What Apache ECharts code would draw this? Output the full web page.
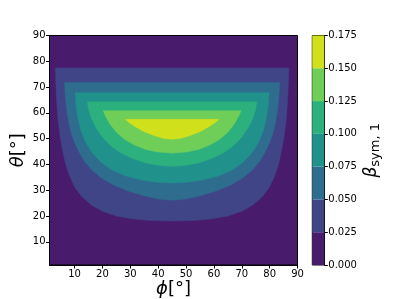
<!DOCTYPE html>
<html><head><meta charset="utf-8">
<script src="https://cdn.jsdelivr.net/npm/echarts@6/dist/echarts.min.js"></script>
<style>html,body{margin:0;padding:0;background:#fff}#c{width:399px;height:299px}</style>
</head><body><div id="c"></div>
<script>
// contour levels (colorbar boundaries)
const levels = [0, 0.025, 0.05, 0.075, 0.1, 0.125, 0.15, 0.175];
const bandColors = ['#481b6d', '#404588', '#2e6d8e', '#21918c', '#2cb17e', '#6ece58', '#d0e11c'];
const phiTicks = [10, 20, 30, 40, 50, 60, 70, 80, 90];
const thetaTicks = [10, 20, 30, 40, 50, 60, 70, 80, 90];
// contour lines [phi, theta]; each encloses values above its level
const c025 = [[3.1,77.4],[3.3,71],[3.6,64],[4.1,57],[4.8,51],[5.6,46],[6.7,40.5],[8.2,35.5],[10.2,31],[12.8,27.3],[16,24.3],[20,21.8],[25,20],[30.5,18.9],[37,18.3],[45,18.1],
  [53,18.3],[59.5,18.9],[65,20],[70,21.8],[74,24.3],[77.2,27.3],[79.8,31],[81.8,35.5],[83.3,40.5],[84.4,46],[85.2,51],[85.9,57],[86.4,64],[86.7,71],[86.9,77.4]];
const c050 = [[6.4,71.8],[6.7,66],[7.3,60],[8.3,54],[9.8,49],[11.5,45],[13.4,41.5],[16,38],[19.5,34.8],[24,32],[29,29.8],[34.5,28],[40,26.6],[45,26.1],
  [50,26.6],[55.5,28],[61,29.8],[66,32],[70.5,34.8],[74,38],[76.6,41.5],[78.5,45],[80.2,49],[81.7,54],[82.7,60],[83.3,66],[83.6,71.8]];
const c075 = [[10.2,67.8],[10.5,63],[11.2,58],[12.3,53],[14,48.5],[16.5,44.3],[19.5,40.8],[23.5,37.8],[28.5,35.5],[34,34],[39.5,33.1],[45,32.8],
  [50.5,33.1],[56,34],[61.5,35.5],[66.5,37.8],[70.5,40.8],[73.5,44.3],[76,48.5],[77.7,53],[78.8,58],[79.5,63],[79.8,67.8]];
const c100 = [[14.6,64.3],[15.1,61],[16.2,57.5],[17.8,54],[20,50.5],[23,47.2],[26.5,44.5],[31,42.2],[36,40.5],[40.5,39.6],[45,39.3],
  [49.5,39.6],[54,40.5],[59,42.2],[63.5,44.5],[67,47.2],[70,50.5],[72.2,54],[73.8,57.5],[74.9,61],[75.4,64.3]];
const c125 = [[20.3,60.8],[21.2,58.5],[22.8,55.5],[25,52.5],[28,49.7],[31.5,47.5],[35.5,45.8],[40,44.8],[45,44.4],
  [50,44.8],[54.5,45.8],[58.5,47.5],[62,49.7],[65,52.5],[67.2,55.5],[68.8,58.5],[69.7,60.8]];
const c150 = [[28.2,57.5],[29.5,56.3],[31.5,54.8],[35,52.7],[38.5,51.2],[42,50.1],[45,49.8],
  [48,50.1],[51.5,51.2],[55,52.7],[58.5,54.8],[60.5,56.3],[61.8,57.5]];
const contours = [c025, c050, c075, c100, c125, c150];

const chart = echarts.init(document.getElementById('c'), null, {renderer: 'canvas'});
const F = 'DejaVu Sans';
const axisLine = {show: true, lineStyle: {color: '#000', width: 1}};
const tick = (vals) => ({show: true, length: 3.5, lineStyle: {color: '#000', width: 1}, customValues: vals});
const lab = (vals, fmt) => ({color: '#000', fontFamily: F, fontSize: 10, margin: 4, customValues: vals, formatter: fmt});

chart.setOption({
  animation: false,
  grid: [
    {left: 49.5, top: 35.5, width: 248, height: 229.5, show: true, backgroundColor: bandColors[0], borderColor: '#000', borderWidth: 1, outerBoundsMode: 'none', containLabel: false},
    {left: 312.3, top: 35.5, width: 12, height: 229.5, show: true, borderColor: '#000', borderWidth: 1, outerBoundsMode: 'none', containLabel: false}
  ],
  xAxis: [
    {gridIndex: 0, type: 'value', min: 1, max: 90, axisLine: axisLine, axisTick: tick(phiTicks), axisLabel: lab(phiTicks),
     splitLine: {show: false}, name: '{i|ϕ}{n|[°]}', nameLocation: 'middle', nameGap: 15, nameMoveOverlap: false,
     nameTextStyle: {rich: {i: {fontFamily: F, fontStyle: 'italic', fontSize: 18, color: '#000'}, n: {fontFamily: F, fontSize: 18, color: '#000'}}}},
    {gridIndex: 1, type: 'category', data: ['cb'], show: false, boundaryGap: true}
  ],
  yAxis: [
    {gridIndex: 0, type: 'value', min: 1, max: 90, axisLine: axisLine, axisTick: tick(thetaTicks), axisLabel: lab(thetaTicks),
     splitLine: {show: false}, name: '{i|θ}{n|[°]}', nameLocation: 'middle', nameGap: 22, nameRotate: 90, nameMoveOverlap: false,
     nameTextStyle: {rich: {i: {fontFamily: F, fontStyle: 'italic', fontSize: 18, color: '#000'}, n: {fontFamily: F, fontSize: 18, color: '#000'}}}},
    {gridIndex: 1, type: 'value', min: 0, max: 0.175, interval: 0.025, position: 'right', axisLine: axisLine,
     axisTick: {show: true, length: 3.5, lineStyle: {color: '#000'}},
     axisLabel: {color: '#000', fontFamily: F, fontSize: 10, margin: 4, formatter: v => v.toFixed(3)},
     splitLine: {show: false}, name: '{b|β}{s|sym, 1}', nameLocation: 'middle', nameGap: 37, nameRotate: 90,
     nameTextStyle: {rich: {b: {fontFamily: F, fontStyle: 'italic', fontSize: 17, color: '#000'}, s: {fontFamily: F, fontSize: 13, color: '#000', padding: [8, 0, 0, 0]}}}}
  ],
  series: [
    {type: 'custom', xAxisIndex: 0, yAxisIndex: 0, clip: true,
     data: contours.map((c, i) => [45, 50, i]),
     renderItem: function (params, api) {
       const idx = api.value(2);
       const pts = contours[idx].map(p => api.coord(p));
       return {type: 'polygon', shape: {points: pts}, style: {fill: bandColors[idx + 1], stroke: bandColors[idx + 1], lineWidth: 0.5}};
     }},
    {type: 'custom', xAxisIndex: 1, yAxisIndex: 1,
     data: bandColors.map((c, i) => [0, levels[i], levels[i + 1], i]),
     renderItem: function (params, api) {
       const lo = api.coord([0, api.value(1)]);
       const hi = api.coord([0, api.value(2)]);
       const w = api.size([1, 0])[0];
       return {type: 'rect', shape: {x: lo[0] - w / 2, y: hi[1], width: w, height: lo[1] - hi[1]}, style: {fill: bandColors[api.value(3)]}};
     }}
  ]
});
</script></body></html>
